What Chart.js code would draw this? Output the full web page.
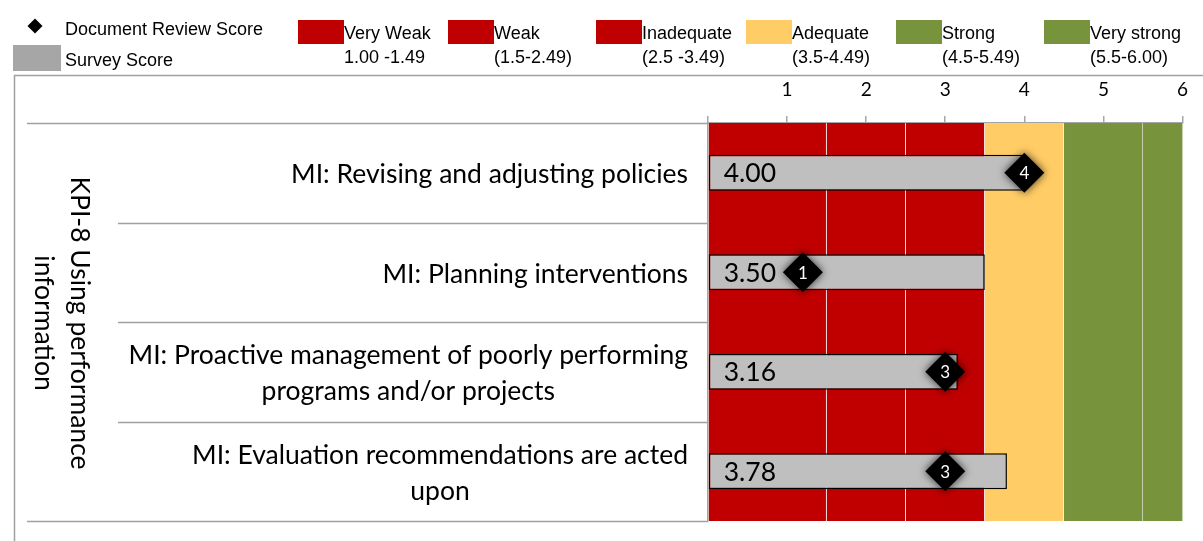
<!DOCTYPE html>
<html>
<head>
<meta charset="utf-8">
<script src="https://cdn.jsdelivr.net/npm/chart.js@4.4.0/dist/chart.umd.min.js"></script>
<style>
  html, body { margin: 0; padding: 0; background: #fff; }
</style>
</head>
<body>
<canvas id="chart" width="1203" height="541"></canvas>
<script>
// categories (each entry = lines of the label)
const categories = [
  ['MI: Revising and adjusting policies'],
  ['MI: Planning interventions'],
  ['MI: Proactive management of poorly performing', 'programs and/or projects'],
  ['MI: Evaluation recommendations are acted', 'upon']
];
const groupTitle = ['KPI-8 Using performance', 'information'];

const surveyScores = [4.00, 3.50, 3.16, 3.78];
const docReviewScores = [4, 1.2, 3, 3];
const docReviewLabels = ['4', '1', '3', '3'];

// rating bands behind the bars
const bandNames = ['Very Weak', 'Weak', 'Inadequate', 'Adequate', 'Strong', 'Very strong'];
const bandRanges = ['1.00 -1.49', '(1.5-2.49)', '(2.5 -3.49)', '(3.5-4.49)', '(4.5-5.49)', '(5.5-6.00)'];
const bandStart = [0, 1.5, 2.5, 3.5, 4.5, 5.5];
const bandEnd = [1.5, 2.5, 3.5, 4.5, 5.5, 6];
const bandColors = ['#C00000', '#C00000', '#C00000', '#FFCC66', '#77933C', '#77933C'];

const xMin = 0;
const xMax = 6;

const LABEL_FONT = 'Lato';
const LEGEND_FONT = 'Liberation Sans';

// one floating bar per band, all on a hidden single-category axis
const bandDatasets = bandNames.map((name, i) => ({
  type: 'bar',
  label: name,
  data: [[bandStart[i], bandEnd[i]]],
  yAxisID: 'yb',
  backgroundColor: bandColors[i],
  borderColor: 'rgba(255,255,255,0.35)',
  borderWidth: { left: 0, right: i < bandNames.length - 1 ? 1 : 0, top: 0, bottom: 0 },
  borderSkipped: false,
  barPercentage: 1,
  categoryPercentage: 1,
  grouped: false,
  order: 10
}));

const shadowPlugin = {
  id: 'diamondShadow',
  beforeDatasetDraw(chart, args) {
    if (chart.data.datasets[args.index].label !== 'Document Review Score') return;
    const ctx = chart.ctx;
    ctx.save();
    ctx.shadowColor = 'rgba(0,0,0,0.75)';
    ctx.shadowBlur = 9;
  },
  afterDatasetDraw(chart, args) {
    if (chart.data.datasets[args.index].label !== 'Document Review Score') return;
    chart.ctx.restore();
  }
};

const labelsPlugin = {
  id: 'valueLabels',
  afterDatasetsDraw(chart) {
    const ctx = chart.ctx;
    const dsSurvey = chart.data.datasets.findIndex(d => d.label === 'Survey Score');
    const dsDoc = chart.data.datasets.findIndex(d => d.label === 'Document Review Score');
    ctx.save();
    ctx.textBaseline = 'middle';
    ctx.fillStyle = '#000';
    ctx.font = '26.5px ' + LABEL_FONT;
    ctx.textAlign = 'left';
    chart.getDatasetMeta(dsSurvey).data.forEach((bar, i) => {
      ctx.fillText(surveyScores[i].toFixed(2), bar.base + 15, bar.y + 1);
    });
    ctx.fillStyle = '#fff';
    ctx.font = '17px ' + LABEL_FONT;
    ctx.textAlign = 'center';
    chart.getDatasetMeta(dsDoc).data.forEach((pt, i) => {
      ctx.fillText(docReviewLabels[i], pt.x, pt.y + 1);
    });
    ctx.restore();
  }
};

const framePlugin = {
  id: 'frameTableLegend',
  afterDraw(chart) {
    const ctx = chart.ctx;
    const area = chart.chartArea;
    const yScale = chart.scales.y;
    ctx.save();

    // outer frame
    ctx.strokeStyle = '#a0a0a0';
    ctx.lineWidth = 1.5;
    ctx.strokeRect(14.5, 75.5, 1300, 600);

    // table lines left of the plot
    for (let i = 0; i <= categories.length; i++) {
      const y = Math.round(yScale.getPixelForValue(i - 0.5)) + 0.5;
      const x0 = (i === 0 || i === categories.length) ? 27 : 118;
      ctx.beginPath();
      ctx.moveTo(x0, y);
      ctx.lineTo(area.left, y);
      ctx.stroke();
    }

    // category labels
    ctx.fillStyle = '#000';
    ctx.font = '26.5px ' + LABEL_FONT;
    ctx.textBaseline = 'middle';
    ctx.textAlign = 'center';
    const labelRight = area.left - 20;
    const lh = 36;
    categories.forEach((lines, i) => {
      const yc = yScale.getPixelForValue(i) + 2;
      const w = Math.max(...lines.map(l => ctx.measureText(l).width));
      const xc = labelRight - w / 2;
      lines.forEach((l, j) => ctx.fillText(l, xc, yc + (j - (lines.length - 1) / 2) * lh));
    });

    // rotated group title
    ctx.save();
    ctx.translate(62, (area.top + area.bottom) / 2 + 1);
    ctx.rotate(Math.PI / 2);
    groupTitle.forEach((l, j) => ctx.fillText(l, 0, (j - (groupTitle.length - 1) / 2) * lh));
    ctx.restore();

    // legend
    ctx.font = '18px ' + LEGEND_FONT;
    ctx.textAlign = 'left';
    ctx.textBaseline = 'alphabetic';
    ctx.fillStyle = '#000';
    ctx.beginPath();
    ctx.moveTo(35, 18.5); ctx.lineTo(42.5, 26); ctx.lineTo(35, 33.5); ctx.lineTo(27.5, 26);
    ctx.closePath();
    ctx.fill();
    ctx.fillText('Document Review Score', 65, 35);
    ctx.fillStyle = '#a6a6a6';
    ctx.fillRect(13, 45, 48, 26);
    ctx.fillStyle = '#000';
    ctx.fillText('Survey Score', 65, 66);

    const boxX = [298, 448, 596, 746, 896, 1044];
    bandNames.forEach((name, i) => {
      ctx.fillStyle = bandColors[i];
      ctx.fillRect(boxX[i], 20, 46, 24);
      ctx.fillStyle = '#000';
      ctx.fillText(name, boxX[i] + 46, 39);
      ctx.fillText(bandRanges[i], boxX[i] + 46, 63);
    });

    ctx.restore();
  }
};

new Chart(document.getElementById('chart'), {
  type: 'bar',
  data: {
    labels: categories.map(c => c.join(' ')),
    datasets: [
      {
        type: 'line',
        label: 'Document Review Score',
        data: docReviewScores,
        showLine: false,
        pointStyle: 'rectRot',
        pointRadius: 20,
        pointHoverRadius: 20,
        pointBackgroundColor: '#000',
        pointBorderColor: '#000',
        pointBorderWidth: 0,
        order: 1
      },
      {
        type: 'bar',
        label: 'Survey Score',
        data: surveyScores,
        backgroundColor: '#BFBFBF',
        borderColor: '#000',
        borderWidth: 1.5,
        borderSkipped: false,
        barPercentage: 0.36,
        categoryPercentage: 1,
        grouped: false,
        order: 2
      },
      ...bandDatasets
    ]
  },
  options: {
    indexAxis: 'y',
    responsive: false,
    animation: false,
    layout: { padding: { top: 0, left: 0, right: 20, bottom: 19 } },
    plugins: {
      legend: { display: false },
      tooltip: { enabled: false }
    },
    scales: {
      x: {
        position: 'top',
        min: xMin,
        max: xMax,
        ticks: {
          stepSize: 1,
          color: '#000',
          font: { family: LABEL_FONT, size: 19 },
          padding: 15,
          callback: v => (v === 0 ? '' : v)
        },
        grid: { drawOnChartArea: false, drawTicks: true, tickLength: 7, color: '#a6a6a6', lineWidth: 1.5 },
        border: { color: '#a6a6a6', width: 1.5 },
        afterFit: s => { s.height = 123; }
      },
      y: {
        ticks: { display: false },
        grid: { display: false },
        border: { color: '#a6a6a6', width: 1.5 },
        afterFit: s => { s.width = 708; }
      },
      yb: {
        type: 'category',
        labels: ['band'],
        offset: true,
        display: false
      }
    }
  },
  plugins: [shadowPlugin, labelsPlugin, framePlugin]
});
</script>
</body>
</html>
